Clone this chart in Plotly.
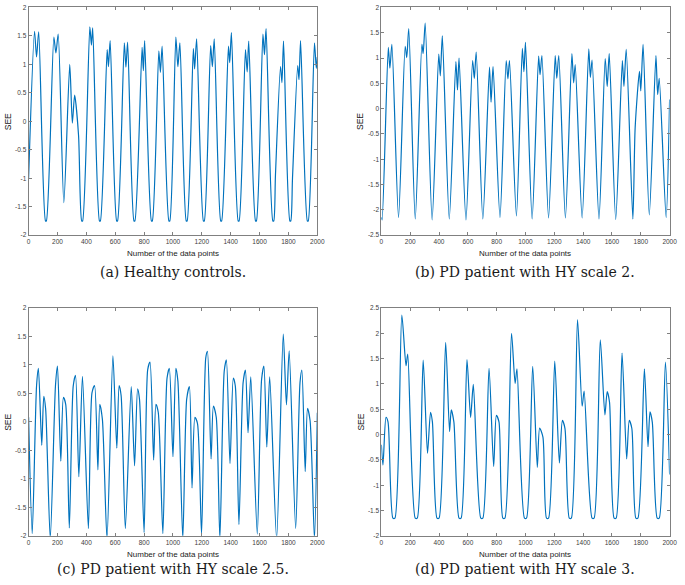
import plotly.graph_objects as go

# ---------------- data ----------------
a_x = [0, 41, 55, 70, 117, 123, 175, 189, 205, 244, 285, 303, 319, 346, 368, 374,
       424, 435, 444, 491, 497, 544, 553, 565, 610, 616, 663, 674, 686, 730, 736,
       786, 795, 804, 851, 857, 902, 913, 925, 972, 978, 1020, 1034, 1048, 1092, 1098,
       1141, 1150, 1164, 1211, 1217, 1261, 1273, 1286, 1331, 1337, 1384, 1393, 1405,
       1452, 1458, 1502, 1514, 1525, 1572, 1578, 1623, 1634, 1645, 1692, 1698, 1710,
       1745, 1755, 1766, 1810, 1816, 1828, 1864, 1873, 1884, 1931, 1937, 1980, 1993, 2000]
a_y = [-1.0, 1.58, 1.13, 1.57, -1.75, -1.75, 1.48, 1.2, 1.53, -1.43, 1.0, -0.03, 0.46, -0.25, -1.75, -1.75,
       1.66, 1.34, 1.64, -1.75, -1.75, 1.26, 0.96, 1.42, -1.75, -1.75, 1.38, 0.95, 1.39, -1.75, -1.75,
       1.3, 0.89, 1.42, -1.75, -1.75, 1.24, 0.86, 1.32, -1.75, -1.75, 1.48, 0.96, 1.38, -1.75, -1.75,
       1.28, 0.92, 1.45, -1.75, -1.75, 1.33, 0.96, 1.45, -1.75, -1.75, 1.32, 1.03, 1.56,
       -1.75, -1.75, 1.26, 0.87, 1.41, -1.75, -1.75, 1.53, 1.17, 1.63, -1.75, -1.75, -0.94,
       0.96, 0.68, 1.41, -1.75, -1.75, -1.0, 0.98, 0.73, 1.42, -1.75, -1.75, 1.38, 0.93, 1.13]

b_x = [0, 5, 48, 59, 73, 119, 165, 176, 190, 235, 281, 290, 304, 352, 398, 409, 423,
       471, 517, 528, 539, 587, 633, 645, 658, 704, 750, 761, 775, 823, 866, 878, 889,
       937, 978, 989, 1000, 1046, 1091, 1101, 1114, 1160, 1206, 1217, 1231, 1277,
       1322, 1334, 1345, 1393, 1439, 1450, 1462, 1510, 1553, 1567, 1581, 1626,
       1672, 1683, 1699, 1745, 1761, 1791, 1800, 1816, 1859, 1905, 1917, 1928, 1976, 2000]
b_y = [-2.15, -2.2, 1.21, 0.8, 1.27, -2.15, 1.23, 1.01, 1.58, -2.18, 1.27, 1.09, 1.69, -2.2, 1.08, 0.65, 1.44,
       -2.18, 0.93, 0.37, 1.0, -2.2, 0.95, 0.6, 1.12, -2.18, 0.82, 0.13, 0.83, -2.15, 0.95, 0.59, 0.95,
       -2.12, 1.19, 0.73, 1.31, -2.18, 1.04, 0.67, 1.05, -2.16, 1.05, 0.6, 1.05, -2.16,
       1.09, 0.51, 0.87, -2.16, 1.18, 0.62, 0.96, -2.18, 0.99, 0.44, 1.09, -2.19,
       0.95, 0.44, 1.17, -2.18, -0.37, 0.74, 0.35, 1.27, -2.1, 1.05, 0.28, 0.6, -2.15, 0.18]

c_x = [0, 25, 55, 68, 91, 105, 118, 150, 186, 200, 223, 241, 257, 282, 309, 325, 348, 373,
       414, 439, 457, 480, 493, 511, 543, 584, 611, 627, 641, 670, 711, 734, 755, 768,
       800, 825, 841, 866, 882, 898, 930, 959, 975, 1000, 1020, 1034, 1068, 1095, 1114,
       1132, 1152, 1170, 1198, 1227, 1239, 1264, 1280, 1300, 1325, 1355, 1370, 1395,
       1418, 1432, 1457, 1486, 1502, 1520, 1539, 1584, 1614, 1630, 1650, 1670, 1718,
       1764, 1786, 1805, 1850, 1880, 1893, 1916, 1932, 1950, 1980, 2000]
c_y = [0.08, -1.96, 0.63, 0.94, -0.41, 0.45, 0.23, -2.05, 0.63, 0.98, -0.69, 0.43, 0.31, -1.86, 0.63, 0.82, -0.96, 0.8,
       -1.87, 0.51, 0.64, -0.84, 0.31, 0.05, -2.05, 1.16, -0.46, 0.64, 0.46, -1.87, 0.62, -0.77, 0.58, 0.4,
       -1.94, 0.92, 1.05, -0.67, 0.31, 0.17, -1.96, 0.77, 0.94, -0.61, 0.94, 0.72, -2.05, 0.4, 0.62,
       -1.16, 0.08, -0.03, -1.97, 1.12, 1.24, -0.65, 0.28, 0.08, -2.05, 0.89, 1.09, -0.73,
       0.77, 0.63, -1.8, 0.69, 0.91, -0.19, 0.79, -1.97, 0.75, 0.98, -0.44, 0.79, -2.05,
       1.54, 0.3, 1.25, -1.87, 0.69, 0.91, -0.87, 0.24, 0.02, -2.05, 0.16]

d_x = [0, 11, 32, 46, 80, 94, 142, 171, 183, 235, 249, 290, 320, 341, 354, 386, 400,
       446, 473, 485, 503, 539, 553, 594, 619, 638, 690, 704, 747, 779, 798, 816, 843, 857,
       903, 928, 941, 993, 1007, 1050, 1082, 1098, 1121, 1146, 1160, 1203, 1235, 1256, 1274,
       1304, 1318, 1361, 1393, 1407, 1462, 1476, 1519, 1551, 1567, 1583, 1615, 1629,
       1670, 1702, 1720, 1738, 1766, 1780, 1825, 1850, 1864, 1880, 1914, 1928, 1971, 2000]
d_y = [-0.2, -0.6, 0.34, 0.25, -1.65, -1.65, 2.36, 1.36, 1.59, -1.65, -1.65, 1.47, -0.37, 0.44, 0.25, -1.65, -1.65,
       1.82, 0.06, 0.49, 0.25, -1.65, -1.65, 1.48, 0.34, 0.99, -1.65, -1.65, 1.31, -0.63, 0.38, 0.25, -1.65, -1.65,
       2.0, 1.01, 1.3, -1.65, -1.65, 1.35, -0.65, 0.13, -0.05, -1.65, -1.65, 1.45, -0.56, 0.28, 0.12,
       -1.65, -1.65, 2.27, 0.56, 0.86, -1.65, -1.65, 1.87, 0.39, 0.85, 0.64, -1.65, -1.65,
       1.61, -0.48, 0.28, 0.12, -1.65, -1.65, 1.3, -0.24, 0.45, 0.24, -1.65, -1.65, 1.43, -0.79]

x_ticks = [0, 200, 400, 600, 800, 1000, 1200, 1400, 1600, 1800, 2000]
x_ticktext = ["0", "200", "400", "600", "800", "1000", "1200", "1400", "1600", "1800", "2000"]
y_ticks_ac = [-2, -1.5, -1, -0.5, 0, 0.5, 1, 1.5, 2]
y_ticktext_ac = ["-2", "-1.5", "-1", "-0.5", "0", "0.5", "1", "1.5", "2"]
y_ticks_b = [-2.5, -2, -1.5, -1, -0.5, 0, 0.5, 1, 1.5, 2]
y_ticktext_b = ["-2.5", "-2", "-1.5", "-1", "-0.5", "0", "0.5", "1", "1.5", "2"]
y_ticks_d = [-2, -1.5, -1, -0.5, 0, 0.5, 1, 1.5, 2, 2.5]
y_ticktext_d = ["-2", "-1.5", "-1", "-0.5", "0", "0.5", "1", "1.5", "2", "2.5"]

captions = ["(a) Healthy controls.", "(b) PD patient with HY scale 2.",
            "(c) PD patient with HY scale 2.5.", "(d) PD patient with HY scale 3."]
x_title = "Number of the data points"
y_title = "SEE"

# ---------------- figure ----------------
W, H = 685, 585
LINE = "#0072BD"
AX = "#808080"
SANS = "Liberation Sans, Arial, sans-serif"

# (data arrays, x-pixel span, y-pixel span, y range, y ticks, y tick text, title offset, caption offset)
panels = [
    (a_x, a_y, (27, 320), (3.5, 234), (-2, 2), y_ticks_ac, y_ticktext_ac, 19, 37.5),
    (b_x, b_y, (385, 677.5), (3.5, 234), (-2.5, 2), y_ticks_b, y_ticktext_b, 19, 37.5),
    (c_x, c_y, (27, 320), (307.7, 538.3), (-2, 2), y_ticks_ac, y_ticktext_ac, 18.4, 33.6),
    (d_x, d_y, (385, 677.5), (307.7, 538.3), (-2, 2.5), y_ticks_d, y_ticktext_d, 18.4, 33.6),
]

fig = go.Figure()
layout = dict(width=W, height=H, margin=dict(l=0, r=0, t=0, b=0),
              paper_bgcolor="white", plot_bgcolor="white", showlegend=False,
              font=dict(family=SANS, color="#404040"))
annotations = []
for i, (xs, ys, (x0, x1), (ytop, ybot), yr, yt, ytt, toff, coff) in enumerate(panels):
    n = "" if i == 0 else str(i + 1)
    fig.add_trace(go.Scatter(x=xs, y=ys, mode="lines", xaxis="x" + n, yaxis="y" + n,
                             line=dict(color=LINE, width=1.2, shape="spline", smoothing=0.7),
                             hoverinfo="skip"))
    common = dict(showline=True, linecolor=AX, linewidth=1, mirror="ticks", ticks="inside",
                  ticklen=3, tickcolor=AX, showgrid=False, zeroline=False,
                  tickfont=dict(size=6.5, color="#404040", family=SANS))
    layout["xaxis" + n] = dict(domain=[x0 / W, x1 / W], anchor="y" + n, range=[0, 2000],
                               tickvals=x_ticks, ticktext=x_ticktext, **common)
    layout["yaxis" + n] = dict(domain=[1 - ybot / H, 1 - ytop / H], anchor="x" + n, range=list(yr),
                               tickvals=yt, ticktext=ytt, **common)
    cx = (x0 + x1) / 2
    annotations.append(dict(text=x_title, x=cx / W, y=1 - (ybot + toff) / H, xref="paper", yref="paper",
                            showarrow=False, xanchor="center", yanchor="middle",
                            font=dict(size=8, color="#1a1a1a", family=SANS)))
    annotations.append(dict(text=captions[i], x=cx / W, y=1 - (ybot + coff) / H, xref="paper", yref="paper",
                            showarrow=False, xanchor="center", yanchor="middle",
                            font=dict(size=14, color="#1a1a1a", family="DejaVu Serif, serif")))
    annotations.append(dict(text=y_title, x=(x0 - 21) / W, y=1 - ((ytop + ybot) / 2) / H,
                            xref="paper", yref="paper", showarrow=False, textangle=-90,
                            xanchor="center", yanchor="middle",
                            font=dict(size=8.5, color="#1a1a1a", family=SANS)))
layout["annotations"] = annotations
fig.update_layout(**layout)
fig.write_html("out.html", config={"displayModeBar": False},
               post_script="document.body.style.margin='0';")
